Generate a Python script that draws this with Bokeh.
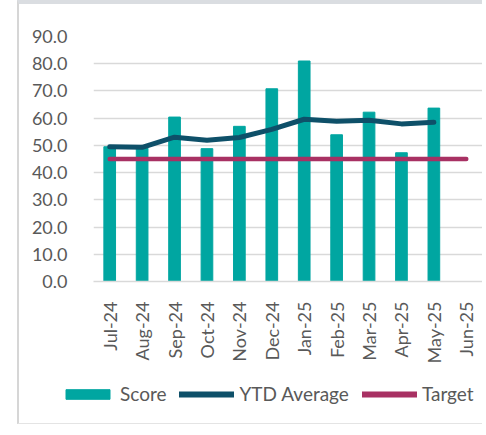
import math
from bokeh.plotting import figure
from bokeh.models import Legend, LegendItem, NumeralTickFormatter, FixedTicker
from bokeh.embed import file_html
from bokeh.resources import INLINE

months = ["Jul-24", "Aug-24", "Sep-24", "Oct-24", "Nov-24", "Dec-24",
          "Jan-25", "Feb-25", "Mar-25", "Apr-25", "May-25", "Jun-25"]
score_months = months[:11]
score = [49.5, 49.0, 60.4, 48.8, 57.0, 70.8, 81.0, 53.9, 62.2, 47.3, 63.7]
ytd_avg = [49.5, 49.3, 53.0, 51.9, 52.9, 55.9, 59.6, 58.9, 59.2, 57.9, 58.5]
target = [45.0] * 12

FONT = "Lato"
GREY = "#595959"
FS = "18px"
TEAL = "#00A6A1"
NAVY = "#0E5069"
CRIMSON = "#A83163"

p = figure(x_range=months, y_range=(0, 90), width=465, height=376,
           output_backend="svg", toolbar_location=None,
           min_border_left=74, min_border_right=2, min_border_top=32,
           min_border_bottom=99,
           styles={"margin-left": "17px", "border-left": "2px solid #d6d6d6",
                   "border-top": "4px solid #dadde1"})
p.background_fill_color = "white"
p.border_fill_color = "white"
p.outline_line_color = None

p.vbar(x=score_months, top=score, width=0.36, color=TEAL)
p.line(x=score_months, y=ytd_avg, line_color=NAVY, line_width=5,
       line_join="round", line_cap="round")
p.line(x=months, y=target, line_color=CRIMSON, line_width=4.5,
       line_cap="round")

p.yaxis.ticker = FixedTicker(ticks=[0, 10, 20, 30, 40, 50, 60, 70, 80, 90])
p.yaxis.formatter = NumeralTickFormatter(format="0.0")
p.yaxis.axis_line_color = None
p.yaxis.major_tick_line_color = None
p.yaxis.minor_tick_line_color = None
p.yaxis.major_label_standoff = 20
p.yaxis.major_label_text_font = FONT
p.yaxis.major_label_text_font_size = FS
p.yaxis.major_label_text_color = GREY

p.xaxis.axis_line_color = "#d9d9d9"
p.xaxis.axis_line_width = 1.5
p.xaxis.major_tick_line_color = None
p.xaxis.minor_tick_line_color = None
p.xaxis.major_label_orientation = math.pi / 2
p.xaxis.major_label_standoff = 14
p.xaxis.major_label_text_font = FONT
p.xaxis.major_label_text_font_size = FS
p.xaxis.major_label_text_color = GREY

p.xgrid.grid_line_color = None
p.ygrid.grid_line_color = "#d9d9d9"
p.ygrid.grid_line_width = 1.5

# legend strip: a second root whose visible window lies away from the data,
# so only its legend shows
lg = figure(width=465, height=48, x_range=months, y_range=(1000, 1001),
            output_backend="svg", toolbar_location=None,
            min_border_left=0, min_border_right=0, min_border_top=0,
            min_border_bottom=0,
            styles={"margin-left": "17px", "border-left": "2px solid #d6d6d6",
                    "border-bottom": "1px solid #e4e4e4"})
lg.axis.visible = False
lg.grid.visible = False
lg.outline_line_color = None
lg.background_fill_color = "white"
lg.border_fill_color = "white"
r_score = lg.vbar(x=score_months, top=score, width=0.36, color=TEAL)
r_ytd = lg.line(x=score_months, y=ytd_avg, line_color=NAVY, line_width=6,
                line_cap="round")
r_tgt = lg.line(x=months, y=target, line_color=CRIMSON, line_width=6,
                line_cap="round")

legend = Legend(items=[LegendItem(label="Score", renderers=[r_score]),
                       LegendItem(label="YTD Average", renderers=[r_ytd]),
                       LegendItem(label="Target", renderers=[r_tgt])],
                orientation="horizontal", location=(41, 19),
                glyph_width=55, glyph_height=12, label_standoff=5,
                spacing=13, padding=0, margin=0,
                label_text_font=FONT, label_text_font_size="19px",
                label_text_color=GREY, border_line_color=None,
                background_fill_alpha=0)
lg.add_layout(legend, "center")

open("out.html", "w").write(file_html([p, lg], INLINE))
